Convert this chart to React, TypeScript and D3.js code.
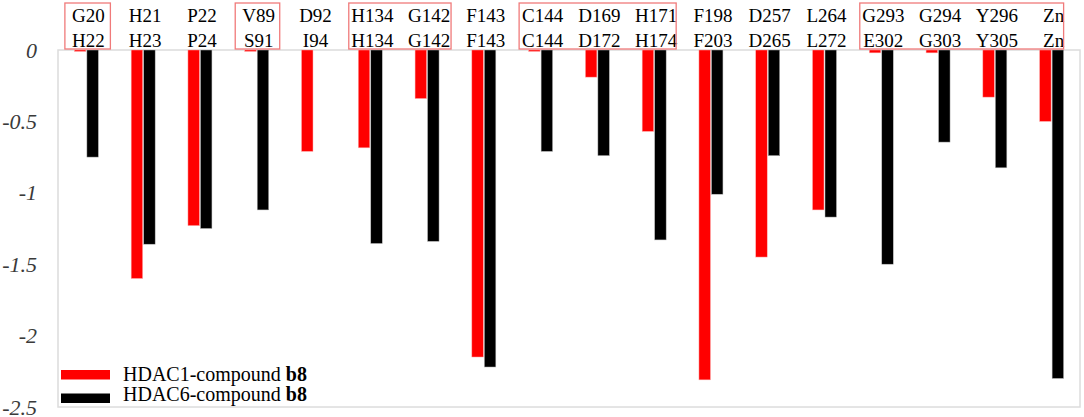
import React from "react";
import * as d3 from "d3";

const residuesHDAC1 = ["G20","H21","P22","V89","D92","H134","G142","F143","C144","D169","H171","F198","D257","L264","G293","G294","Y296","Zn"];
const residuesHDAC6 = ["H22","H23","P24","S91","I94","H134","G142","F143","C144","D172","H174","F203","D265","L272","E302","G303","Y305","Zn"];
const hdac1Values = [-0.01,-1.60,-1.23,-0.01,-0.71,-0.685,-0.34,-2.15,-0.01,-0.19,-0.57,-2.31,-1.45,-1.12,-0.02,-0.02,-0.33,-0.50];
const hdac6Values = [-0.75,-1.36,-1.25,-1.12,0,-1.355,-1.34,-2.22,-0.71,-0.74,-1.33,-1.01,-0.74,-1.17,-1.50,-0.645,-0.825,-2.30];
const yTicks = [0,-0.5,-1,-1.5,-2,-2.5];
const yTickLabels = ["0","-0.5","-1","-1.5","-2","-2.5"];
const seriesNames = ["HDAC1-compound ","HDAC6-compound "];
const seriesBold = "b8";
// groups of residues framed with a red box: [first index, last index, right pad]
const boxedGroups = [[0,0,24],[3,3,23],[5,6,24],[8,10,22],[14,17,12]];

const W = 1084, H = 417;
const left = 58, right = 1080, top = 50, bottom = 407;
const FONT = "'Liberation Serif', 'Times New Roman', serif";

export default function App() {
  const idx = residuesHDAC1.map((_, i) => String(i));
  const x = d3.scaleBand<string>().domain(idx).range([left, right]);
  const y = d3.scaleLinear().domain([-2.5, 0]).range([bottom, top]);
  const center = (i: number) => (x(String(i)) as number) + x.bandwidth() / 2;
  const bw = 11.5, gap = 0.5;
  const colors = ["#ff0000", "#000000"];
  const series = [hdac1Values, hdac6Values];

  return (
    <svg width={W} height={H} style={{ position: "absolute", left: 0, top: 0, background: "#fff" }} fontFamily={FONT}>
      <rect x={left} y={top} width={right - left} height={bottom - top} fill="none" stroke="#dcdcdc" strokeWidth={1.5} />
      {yTicks.map((t, i) => (
        <text key={t} x={37} y={y(t)} textAnchor="end" dominantBaseline="central" fontStyle="italic" fontSize={22} fill="#3a3a3a">
          {yTickLabels[i]}
        </text>
      ))}
      {series.map((vals, s) =>
        vals.map((v, i) => {
          if (v === 0) return null;
          const cx = center(i);
          const bx = s === 0 ? cx - gap - bw : cx + gap;
          return (
            <rect key={s + "-" + i} x={bx} y={y(0)} width={bw} height={y(v) - y(0)}
              fill={colors[s]} stroke={s === 0 ? "#ffb0b0" : "#bbbbbb"} strokeWidth={0.5} />
          );
        })
      )}
      {residuesHDAC1.map((r, i) => (
        <text key={"t" + i} x={center(i) + 2} y={22} textAnchor="middle" fontSize={19} fill="#000">{r}</text>
      ))}
      {residuesHDAC6.map((r, i) => (
        <text key={"b" + i} x={center(i) + 2} y={46.5} textAnchor="middle" fontSize={19} fill="#000">{r}</text>
      ))}
      {boxedGroups.map(([a, b, pr], k) => (
        <rect key={"box" + k} x={center(a) - 21.5} y={3} width={center(b) + pr - (center(a) - 21.5)} height={46}
          fill="none" stroke="#f07a7a" strokeWidth={1.3} />
      ))}
      {seriesNames.map((name, s) => (
        <g key={"lg" + s}>
          <rect x={61} y={370 + s * 23.5} width={49} height={9.5} fill={colors[s]} />
          <text x={123} y={380.5 + s * 20} fontSize={20} fill="#000">
            {name}<tspan fontWeight="bold">{seriesBold}</tspan>
          </text>
        </g>
      ))}
    </svg>
  );
}
